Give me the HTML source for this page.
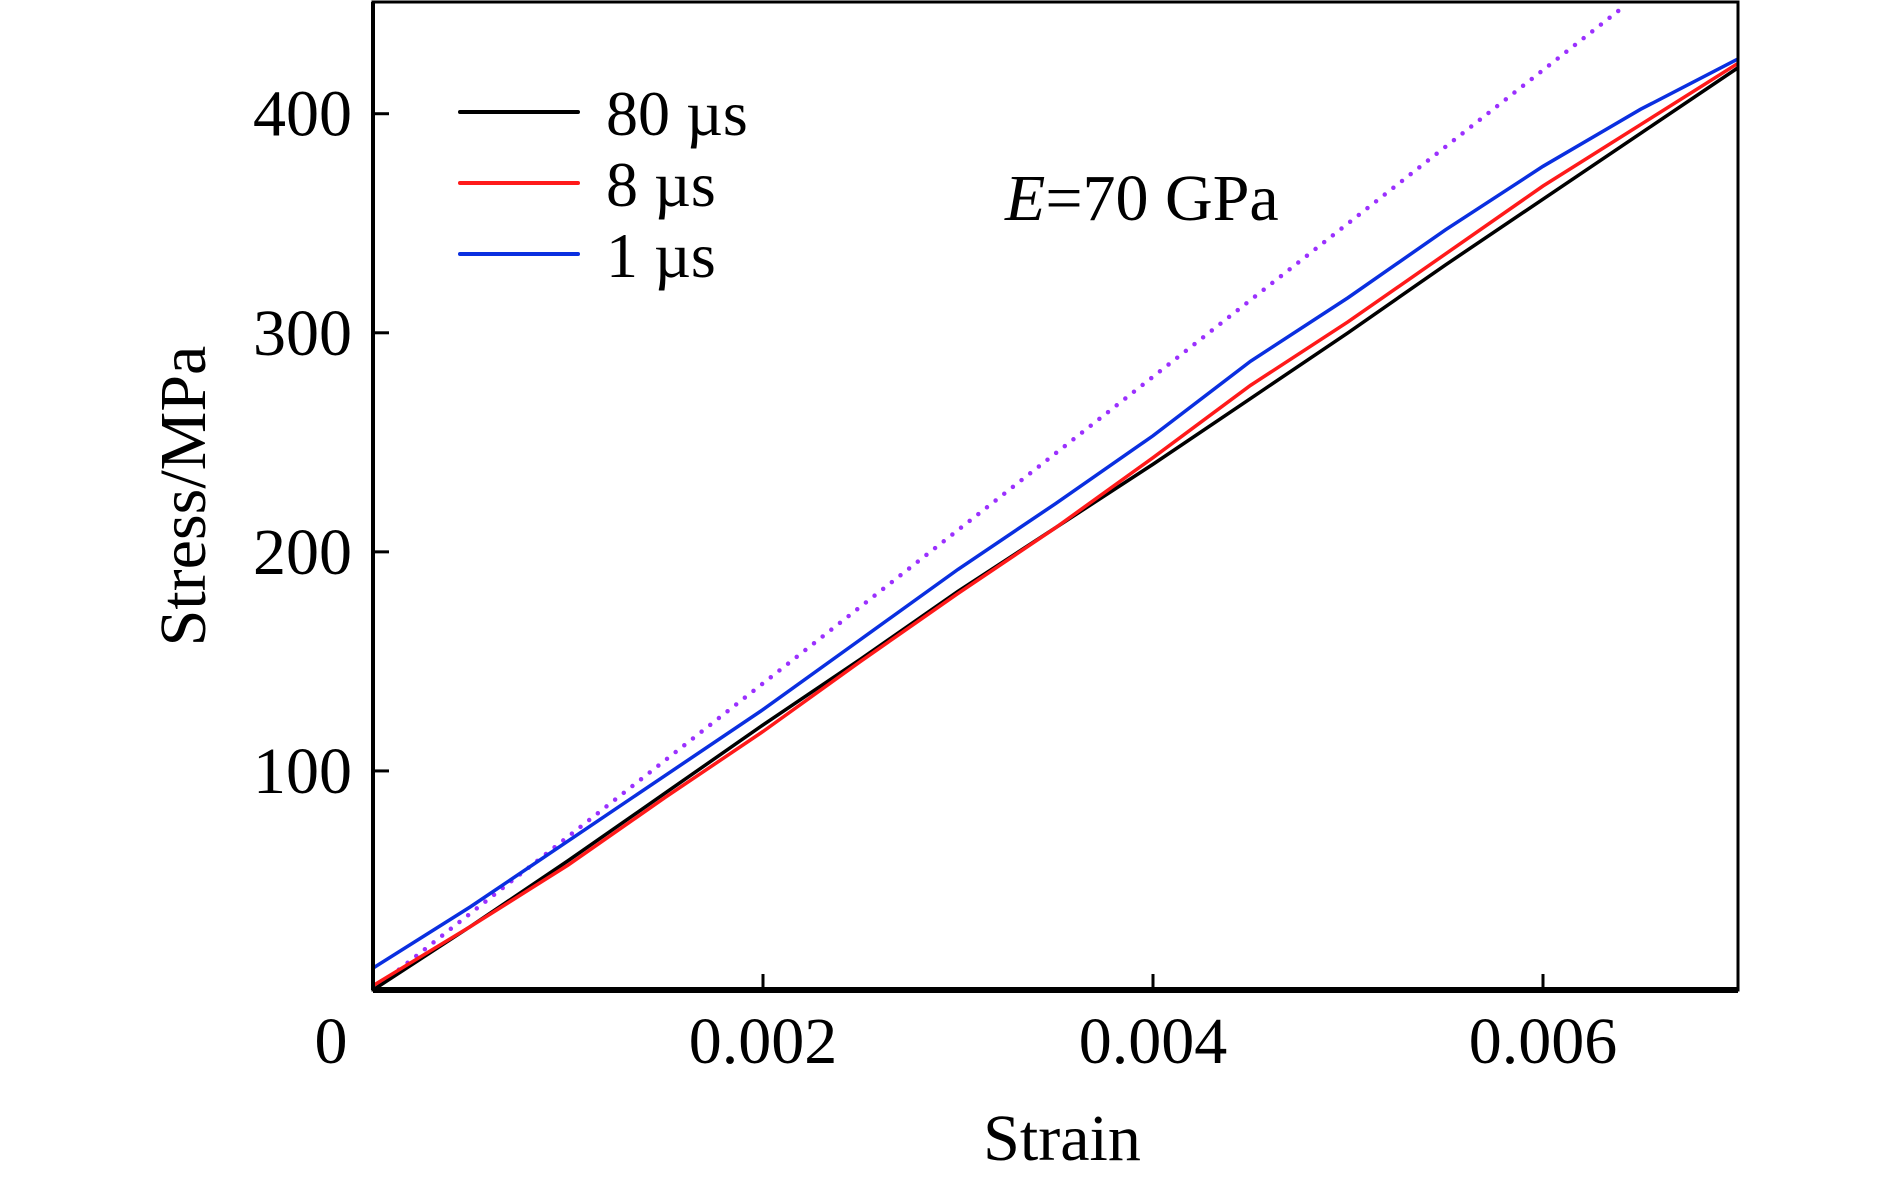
<!DOCTYPE html>
<html><head><meta charset="utf-8"><style>
html,body{margin:0;padding:0;background:#fff;}
svg{display:block;}
text{font-family:"Liberation Serif","Times New Roman",serif;fill:#000;}
</style></head><body>
<svg id="chart" width="1890" height="1179" viewBox="0 0 1890 1179" xmlns="http://www.w3.org/2000/svg">
<g id="series"></g>
<g id="axes"></g>
<text x="1062" y="1160" font-size="66" text-anchor="middle">Strain</text>
<text x="0" y="0" font-size="66" text-anchor="middle" transform="translate(205,496) rotate(-90)">Stress/MPa</text>
<text x="1005" y="220" font-size="66"><tspan font-style="italic">E</tspan>=70 GPa</text>
<g>
<line x1="460" y1="112" x2="578" y2="112" stroke="#000" stroke-width="4" stroke-linecap="round"/>
<text x="606" y="135" font-size="64">80 µs</text>
<line x1="460" y1="183" x2="578" y2="183" stroke="#ff1a1a" stroke-width="4" stroke-linecap="round"/>
<text x="606" y="206" font-size="64">8 µs</text>
<line x1="460" y1="254" x2="578" y2="254" stroke="#0a2fe0" stroke-width="4" stroke-linecap="round"/>
<text x="606" y="277" font-size="64">1 µs</text>
</g>
</svg>
<script>
const strain = [0,0.0005,0.001,0.0015,0.002,0.0025,0.003,0.0035,0.004,0.0045,0.005,0.0055,0.006,0.0065,0.007];
const stress80 = [0,29,59,90,121,151,182,211,240,270,300,331,361,391,421];
const stress8 = [2,29,57,88,118,150,181,211,243,276,305,336,367,395,423];
const stress1 = [10,38,68,98,128,160,192,222,253,287,316,347,376,402,425];
const fitStrain = [0,0.00643];
const fitStress = [0,450];
const xTicks = [0,0.002,0.004,0.006];
const xTickLabels = ["0","0.002","0.004","0.006"];
const yTicks = [100,200,300,400];
const yTickLabels = ["100","200","300","400"];

const L=373,R=1738,T=2,B=990, xMax=0.007, yMax=451;
const sx=v=>L+(v/xMax)*(R-L);
const sy=v=>B-(v/yMax)*(B-T);
const NS="http://www.w3.org/2000/svg";
const series=document.getElementById('series');
const axes=document.getElementById('axes');

function poly(xs,ys,color,name,dash){
  const p=document.createElementNS(NS,'polyline');
  p.setAttribute('points',xs.map((x,i)=>sx(x)+','+sy(ys[i])).join(' '));
  p.setAttribute('fill','none');
  p.setAttribute('stroke',color);
  p.setAttribute('stroke-width',dash?'4.5':'3.5');
  if(dash){p.setAttribute('stroke-dasharray','0 11');p.setAttribute('stroke-linecap','round');}
  
  
  series.appendChild(p);
}
const clip=document.createElementNS(NS,'clipPath');clip.setAttribute('id','pc');
const cr=document.createElementNS(NS,'rect');cr.setAttribute('x',L);cr.setAttribute('y',T);cr.setAttribute('width',R-L);cr.setAttribute('height',B-T);
clip.appendChild(cr);document.getElementById('chart').appendChild(clip);
series.setAttribute('clip-path','url(#pc)');
poly(fitStrain,fitStress,'#9b30ff','line-fit-70gpa',true);
poly(strain,stress80,'#000','line-80us');
poly(strain,stress8,'#ff1a1a','line-8us');
poly(strain,stress1,'#0a2fe0','line-1us');

function el(tag,attrs,name,txt){
  const e=document.createElementNS(NS,tag);
  for(const k in attrs)e.setAttribute(k,attrs[k]);
  
  
  if(txt)e.textContent=txt;
  axes.appendChild(e);return e;
}
el('rect',{x:L,y:T,width:R-L,height:B-T,fill:'none',stroke:'#000','stroke-width':3},'plot-frame');
el('line',{x1:L,y1:B,x2:R,y2:B,stroke:'#000','stroke-width':6},'x-axis-line');
el('line',{x1:L,y1:T,x2:L,y2:B,stroke:'#000','stroke-width':4},'y-axis-line');
xTicks.forEach((v,i)=>{
  if(v>0) el('line',{x1:sx(v),y1:B,x2:sx(v),y2:B-16,stroke:'#000','stroke-width':3},'x-tick');
  el('text',{x:v===0?sx(v)-42:sx(v),y:1063,'font-size':66,'text-anchor':'middle'},'x-tick-label',xTickLabels[i]);
});
yTicks.forEach((v,i)=>{
  el('line',{x1:L,y1:sy(v),x2:L+16,y2:sy(v),stroke:'#000','stroke-width':3},'y-tick');
  el('text',{x:352,y:sy(v)+22,'font-size':66,'text-anchor':'end'},'y-tick-label',yTickLabels[i]);
});
</script>
</body></html>
